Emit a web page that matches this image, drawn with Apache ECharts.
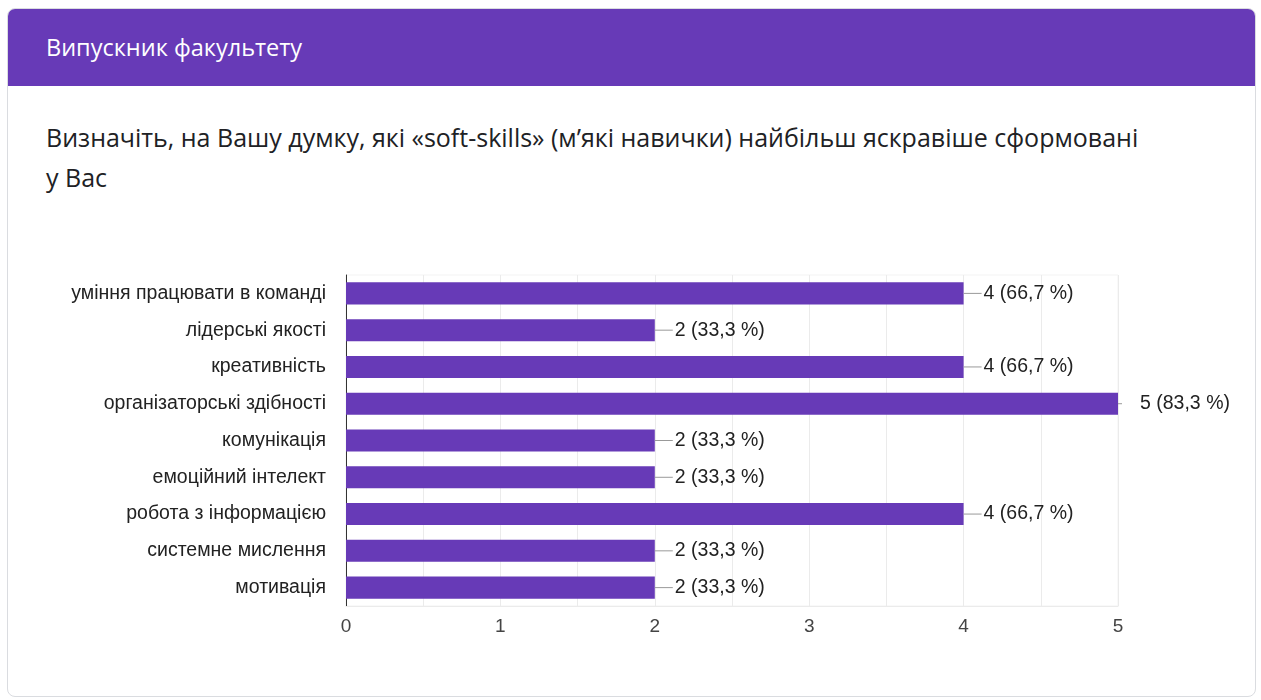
<!DOCTYPE html>
<html>
<head>
<meta charset="utf-8">
<script src="https://cdn.jsdelivr.net/npm/echarts@6/dist/echarts.min.js"></script>
<style>
    html, body { margin: 0; padding: 0; background: #fff; width: 1261px; height: 700px; overflow: hidden; }
    .card { position: absolute; left: 7px; top: 8px; width: 1247px; height: 687px; border: 1px solid #dadce0; border-radius: 8px; background: #fff; overflow: hidden; }
    .card-head { height: 77px; background: #673ab7; color: #fff; font-family: "Open Sans", sans-serif; font-weight: 500; font-size: 23.5px; line-height: 77px; padding-left: 38px; }
    .question { position: absolute; left: 38px; top: 108px; white-space: nowrap; font-family: "Open Sans", sans-serif; font-size: 25px; line-height: 40px; color: #202124; }
    #chart { position: absolute; left: 0; top: 0; width: 1261px; height: 700px; }
</style>
</head>
<body>
<div class="card">
    <div class="card-head">Випускник факультету</div>
    <div class="question">Визначіть, на Вашу думку, які «soft-skills» (м’які навички) найбільш яскравіше сформовані<br>у Вас</div>
</div>
<div id="chart"></div>
<script>
// відповіді
var categories = ['уміння працювати в команді', 'лідерські якості', 'креативність', 'організаторські здібності',
    'комунікація', 'емоційний інтелект', 'робота з інформацією', 'системне мислення', 'мотивація'];
var counts = [4, 2, 4, 5, 2, 2, 4, 2, 2];
var percents = ['66,7 %', '33,3 %', '66,7 %', '83,3 %', '33,3 %', '33,3 %', '66,7 %', '33,3 %', '33,3 %'];
var xTicks = [0, 1, 2, 3, 4, 5];

var chart = echarts.init(document.getElementById('chart'));

var barData = counts.map(function (v, i) {
    var item = { value: v };
    if (v === xTicks[xTicks.length - 1]) {
        // бар до краю - короткий відрізок і відступ
        item.label = {
            formatter: '{ln2|}{gap|}{t|' + v + ' (' + percents[i] + ')}'
        };
    }
    return item;
});

var option = {
    backgroundColor: 'transparent',
    animation: false,
    grid: {
        left: 346,
        right: 143,
        top: 275,
        height: 331,
        show: true,
        borderColor: '#f3f3f3',
        borderWidth: 1
    },
    xAxis: {
        type: 'value',
        min: 0,
        max: 5,
        interval: 0.5,
        axisLine: { show: true, lineStyle: { color: '#ebebeb' } },
        axisTick: { show: false },
        splitLine: { show: true, lineStyle: { color: '#ebebeb' } },
        axisLabel: {
            color: '#444',
            fontFamily: 'Liberation Sans, Arial',
            fontSize: 19,
            margin: 11,
            formatter: function (v) {
                return xTicks.indexOf(v) >= 0 ? String(v) : '';
            }
        }
    },
    yAxis: {
        type: 'category',
        inverse: true,
        data: categories,
        axisLine: { show: true, lineStyle: { color: '#333' } },
        axisTick: { show: false },
        axisLabel: {
            color: '#222',
            fontFamily: 'Liberation Sans, Arial',
            fontSize: 19.5,
            margin: 20
        }
    },
    series: [{
        type: 'bar',
        data: barData,
        barCategoryGap: '40%',
        itemStyle: { color: '#673ab7' },
        label: {
            show: true,
            position: 'right',
            distance: 0,
            color: '#222',
            fontFamily: 'Liberation Sans, Arial',
            fontSize: 19.5,
            formatter: function (p) {
                return '{ln|}{t|' + p.value + ' (' + percents[p.dataIndex] + ')}';
            },
            rich: {
                ln: { width: 18, height: 1, backgroundColor: '#999' },
                ln2: { width: 4, height: 1, backgroundColor: '#999' },
                gap: { width: 16 },
                t: { color: '#222', fontFamily: 'Liberation Sans, Arial', fontSize: 19.5, padding: [0, 0, 0, 2] }
            }
        }
    }]
};
chart.setOption(option, true);
</script>
</body>
</html>
